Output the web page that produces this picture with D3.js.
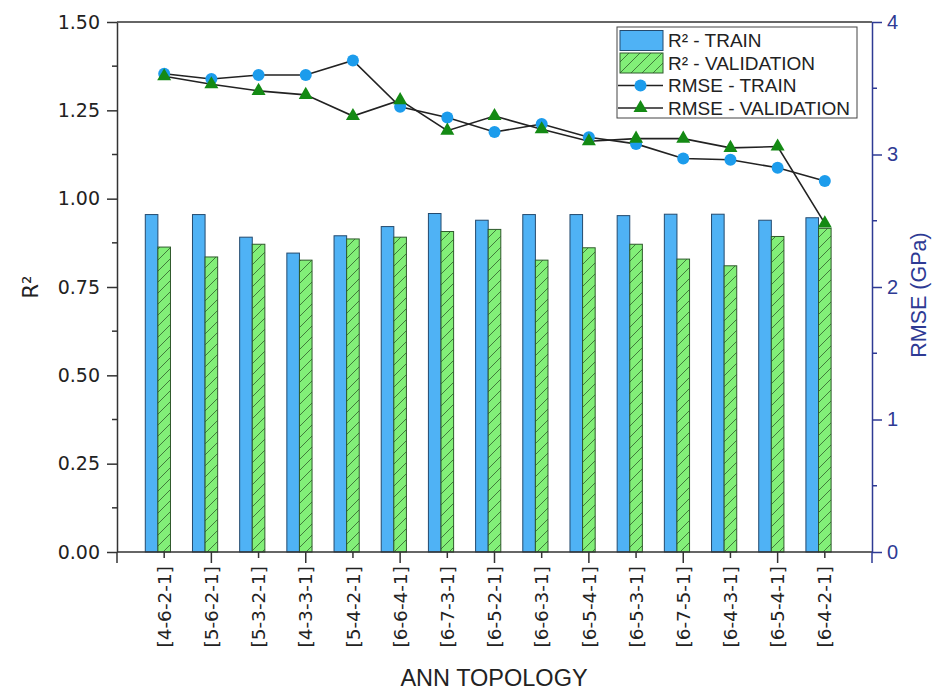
<!DOCTYPE html>
<html>
<head>
<meta charset="utf-8">
<script src="https://cdn.jsdelivr.net/npm/d3@7"></script>
<style>
  body { margin: 0; background: #fff; }
  svg { display: block; }
</style>
</head>
<body>
<svg id="chart" width="934" height="693"></svg>
<script>
// ANN topologies compared by R² (bars, left axis) and RMSE (lines, right axis)
const categories = ["[4-6-2-1]", "[5-6-2-1]", "[5-3-2-1]", "[4-3-3-1]", "[5-4-2-1]",
  "[6-6-4-1]", "[6-7-3-1]", "[6-5-2-1]", "[6-6-3-1]", "[6-5-4-1]",
  "[6-5-3-1]", "[6-7-5-1]", "[6-4-3-1]", "[6-5-4-1]", "[6-4-2-1]"];
const r2Train = [0.955, 0.955, 0.891, 0.846, 0.895, 0.921, 0.958, 0.939, 0.955, 0.955, 0.952, 0.956, 0.956, 0.939, 0.946];
const r2Validation = [0.863, 0.835, 0.871, 0.826, 0.886, 0.891, 0.907, 0.913, 0.826, 0.861, 0.871, 0.829, 0.810, 0.893, 0.916];
const rmseTrain = [3.61, 3.57, 3.60, 3.60, 3.71, 3.36, 3.28, 3.17, 3.23, 3.13, 3.08, 2.97, 2.96, 2.90, 2.80];
const rmseValidation = [3.59, 3.53, 3.48, 3.45, 3.29, 3.41, 3.18, 3.29, 3.19, 3.10, 3.12, 3.12, 3.05, 3.06, 2.48];
const r2Ticks = [0, 0.25, 0.5, 0.75, 1.0, 1.25, 1.5];
const rmseTicks = [0, 1, 2, 3, 4];

const svg = d3.select("#chart");
const L = 117, R = 872, T = 22, B = 552;
const navy = "#2e3a94";
const axisGrey = "#333";
const labelFont = "'DejaVu Sans', Verdana, sans-serif";
const arial = "'Liberation Sans', Arial, sans-serif";

const idx = d3.range(categories.length);
const x = d3.scalePoint().domain(idx).range([L, R]).padding(1);
const xTick = d3.scaleLinear().domain([0, categories.length + 1]).range([L, R]);
const yL = d3.scaleLinear().domain([0, 1.5]).range([B, T]);
const yR = d3.scaleLinear().domain([0, 4]).range([B, T]);
const barW = x.step() * 0.267;

// hatch pattern for validation bars
const defs = svg.append("defs");
const pat = defs.append("pattern").attr("id", "hatch").attr("patternUnits", "userSpaceOnUse")
  .attr("width", 11).attr("height", 11);
pat.append("rect").attr("width", 11).attr("height", 11).attr("fill", "#82ef78");
pat.append("path").attr("d", "M-1,12 L12,-1 M-3,3 L3,-3 M8,14 L14,8")
  .attr("stroke", "#3a6e34").attr("stroke-width", 0.9);

// bars
svg.append("g").selectAll("rect").data(idx).join("rect")
  .attr("x", i => x(i) - barW * 1.5).attr("width", barW)
  .attr("y", i => yL(r2Train[i])).attr("height", i => B - yL(r2Train[i]))
  .attr("fill", "#4fb2f5").attr("stroke", "#244a6e").attr("stroke-width", 1);
svg.append("g").selectAll("rect").data(idx).join("rect")
  .attr("x", i => x(i) - barW * 0.5).attr("width", barW)
  .attr("y", i => yL(r2Validation[i])).attr("height", i => B - yL(r2Validation[i]))
  .attr("fill", "url(#hatch)").attr("stroke", "#2f5a2c").attr("stroke-width", 1);

// frame: top line and bottom axis line
svg.append("line").attr("x1", L).attr("x2", R).attr("y1", T).attr("y2", T)
  .attr("stroke", axisGrey).attr("stroke-width", 1.5);
svg.append("line").attr("x1", L).attr("x2", R).attr("y1", B).attr("y2", B)
  .attr("stroke", axisGrey).attr("stroke-width", 1.5);

// left axis
const gl = svg.append("g").attr("transform", `translate(${L},0)`);
gl.call(d3.axisLeft(yL).tickValues(r2Ticks).tickFormat(d3.format(".2f")).tickSize(10).tickSizeOuter(0))
  .call(g => g.select(".domain").attr("stroke", axisGrey).attr("stroke-width", 1.5))
  .call(g => g.selectAll(".tick line").attr("stroke", axisGrey).attr("stroke-width", 1.5))
  .call(g => g.selectAll(".tick text").attr("font-family", labelFont).attr("font-size", 19)
    .attr("fill", "#222").attr("x", -17));
gl.selectAll(".minor").data(d3.range(0.125, 1.5, 0.25)).join("line")
  .attr("x1", -5).attr("x2", 0).attr("y1", d => yL(d)).attr("y2", d => yL(d))
  .attr("stroke", axisGrey).attr("stroke-width", 1.5);

// right axis
const gr = svg.append("g").attr("transform", `translate(${R},0)`);
gr.call(d3.axisRight(yR).tickValues(rmseTicks).tickFormat(d3.format("d")).tickSize(10).tickSizeOuter(0))
  .call(g => g.select(".domain").attr("stroke", navy).attr("stroke-width", 1.5))
  .call(g => g.selectAll(".tick line").attr("stroke", navy).attr("stroke-width", 1.5))
  .call(g => g.selectAll(".tick text").attr("font-family", arial).attr("font-size", 20)
    .attr("fill", navy).attr("x", 15));
gr.selectAll(".minor").data(d3.range(0.5, 4, 1)).join("line")
  .attr("x1", 0).attr("x2", 5).attr("y1", d => yR(d)).attr("y2", d => yR(d))
  .attr("stroke", navy).attr("stroke-width", 1.5);

// bottom ticks: long at even positions, short at odd
svg.append("g").selectAll("line").data(d3.range(0, categories.length + 2)).join("line")
  .attr("x1", d => xTick(d)).attr("x2", d => xTick(d))
  .attr("y1", B).attr("y2", d => B + (d % 2 === 0 ? 11 : 6))
  .attr("stroke", d => d === categories.length + 1 ? navy : axisGrey).attr("stroke-width", 1.5);

// category labels
svg.append("g").selectAll("text").data(idx).join("text")
  .attr("transform", i => `translate(${x(i)},${B + 14}) rotate(-90)`)
  .attr("text-anchor", "end").attr("dy", "0.36em")
  .attr("font-family", labelFont).attr("font-size", 18.5).attr("fill", "#222")
  .text(i => categories[i]);

// RMSE lines
const lineT = d3.line().x((d, i) => x(i)).y(d => yR(d));
svg.append("path").attr("d", lineT(rmseTrain)).attr("fill", "none")
  .attr("stroke", "#222").attr("stroke-width", 1.6);
svg.append("path").attr("d", lineT(rmseValidation)).attr("fill", "none")
  .attr("stroke", "#222").attr("stroke-width", 1.6);
svg.append("g").selectAll("circle").data(rmseTrain).join("circle")
  .attr("cx", (d, i) => x(i)).attr("cy", d => yR(d)).attr("r", 6)
  .attr("fill", "#1c9cec");
const tri = d3.symbol().type(d3.symbolTriangle).size(85);
svg.append("g").selectAll("path").data(rmseValidation).join("path")
  .attr("transform", (d, i) => `translate(${x(i)},${yR(d)})`)
  .attr("d", tri).attr("fill", "#148a14");

// axis titles
svg.append("text").attr("transform", `translate(38,${(T + B) / 2}) rotate(-90)`)
  .attr("text-anchor", "middle").attr("font-family", labelFont).attr("font-size", 21)
  .attr("fill", "#222").text("R²");
svg.append("text").attr("transform", `translate(926,${(T + B) / 2 + 8}) rotate(-90)`)
  .attr("text-anchor", "middle").attr("font-family", arial).attr("font-size", 21.5)
  .attr("fill", navy).text("RMSE (GPa)");
svg.append("text").attr("x", 494).attr("y", 686).attr("text-anchor", "middle")
  .attr("font-family", arial).attr("font-size", 23.5).attr("fill", "#222").text("ANN TOPOLOGY");

// legend
const lg = svg.append("g");
lg.append("rect").attr("x", 617).attr("y", 27).attr("width", 240).attr("height", 91)
  .attr("fill", "#fff").attr("stroke", "#444").attr("stroke-width", 1);
const rows = [
  { label: "R² - TRAIN", kind: "bar", fill: "#4fb2f5", stroke: "#244a6e" },
  { label: "R² - VALIDATION", kind: "bar", fill: "url(#hatch)", stroke: "#2f5a2c" },
  { label: "RMSE - TRAIN", kind: "circle" },
  { label: "RMSE - VALIDATION", kind: "triangle" }
];
rows.forEach((r, k) => {
  const cy = 40.5 + k * 22.5;
  if (r.kind === "bar") {
    lg.append("rect").attr("x", 620).attr("y", cy - 10).attr("width", 43).attr("height", 20)
      .attr("fill", r.fill).attr("stroke", r.stroke).attr("stroke-width", 1);
  } else {
    lg.append("line").attr("x1", 618).attr("x2", 663).attr("y1", cy).attr("y2", cy)
      .attr("stroke", "#222").attr("stroke-width", 1.6);
    if (r.kind === "circle") {
      lg.append("circle").attr("cx", 640.5).attr("cy", cy).attr("r", 6).attr("fill", "#1c9cec");
    } else {
      lg.append("path").attr("transform", `translate(640.5,${cy})`).attr("d", tri).attr("fill", "#148a14");
    }
  }
  lg.append("text").attr("x", 668).attr("y", cy).attr("dy", "0.36em")
    .attr("font-family", arial).attr("font-size", 19).attr("fill", "#222").text(r.label);
});
</script>
</body>
</html>
